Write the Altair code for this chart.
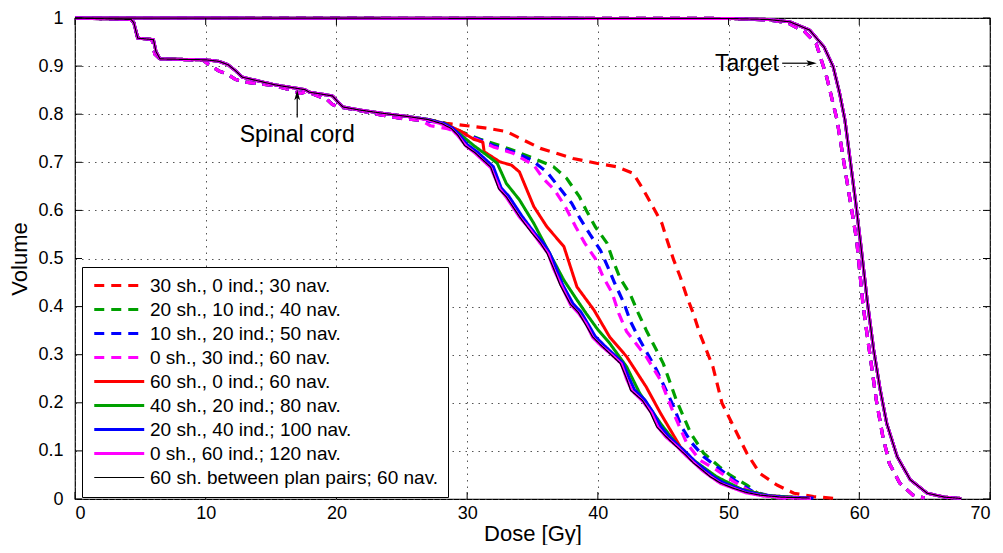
import altair as alt
import pandas as pd

# ---------------- series definitions ----------------
SERIES = [
    "30 sh., 0 ind.; 30 nav.",
    "20 sh., 10 ind.; 40 nav.",
    "10 sh., 20 ind.; 50 nav.",
    "0 sh., 30 ind.; 60 nav.",
    "60 sh., 0 ind.; 60 nav.",
    "40 sh., 20 ind.; 80 nav.",
    "20 sh., 40 ind.; 100 nav.",
    "0 sh., 60 ind.; 120 nav.",
    "60 sh. between plan pairs; 60 nav.",
]
COLORS = ["#ff0000", "#00a000", "#0000ff", "#ff00ff",
          "#ff0000", "#00a000", "#0000ff", "#ff00ff", "#000000"]
DASHES = [[10, 7], [10, 7], [10, 7], [10, 7], [1, 0], [1, 0], [1, 0], [1, 0], [1, 0]]
WIDTHS = [3.2, 3.2, 3.2, 3.2, 3.0, 3.0, 3.0, 3.0, 1.2]

# ---------------- spinal cord DVH: common low-dose part ----------------
CORD_HEAD_D = [0, 4.3, 4.5, 4.8, 6.0, 6.2, 6.5, 10.0, 11.0, 11.7, 12.3, 12.8, 15.3,
               17.6, 17.9, 19.7, 20.1, 20.5, 21.7, 23.5, 25.5]
CORD_HEAD_V = [1.0, 0.997, 0.99, 0.958, 0.955, 0.93, 0.915, 0.913, 0.91, 0.903, 0.89,
               0.877, 0.861, 0.851, 0.846, 0.838, 0.826, 0.815, 0.809, 0.802, 0.795]

CORD_HEAD_DASH_D = [0, 4.3, 4.5, 4.8, 5.9, 6.1, 6.5, 9.8, 10.3, 11.0, 11.6, 12.3, 12.9,
                    15.3, 16.8, 17.2, 17.6, 17.9, 19.3, 19.7, 20.2, 21.7, 23.5, 25.0, 26.5]
CORD_HEAD_DASH_V = [1.0, 0.997, 0.99, 0.958, 0.955, 0.925, 0.915, 0.912, 0.902, 0.89,
                    0.884, 0.872, 0.867, 0.859, 0.848, 0.843, 0.846, 0.845, 0.83, 0.82,
                    0.815, 0.808, 0.798, 0.791, 0.787]

# ---------------- spinal cord DVH: high-dose part per series ----------------
RED_DASH_D = [27.2, 28.4, 30.0, 31.5, 33.0, 35.6, 38.1, 39.9, 41.4, 42.7, 43.5, 44.2,
              44.9, 45.3, 45.8, 46.3, 46.8, 47.3, 47.8, 48.8, 49.5, 50.4, 51.4, 52.4,
              53.7, 55.0, 56.5, 58.0]
RED_DASH_V = [0.788, 0.781, 0.776, 0.771, 0.764, 0.729, 0.708, 0.698, 0.691, 0.677,
              0.642, 0.608, 0.573, 0.538, 0.497, 0.462, 0.421, 0.386, 0.344, 0.275,
              0.199, 0.150, 0.095, 0.053, 0.029, 0.012, 0.005, 0.0015]

GREEN_DASH_D = [28.0, 29.5, 31.0, 32.5, 33.8, 35.1, 36.6, 37.6, 38.6, 39.1, 39.8, 40.7,
                41.2, 41.7, 42.5, 43.1, 43.7, 45.0, 46.0, 47.1, 48.1, 49.3, 50.1, 51.4,
                52.4, 53.5, 55.0]
GREEN_DASH_V = [0.785, 0.764, 0.748, 0.735, 0.722, 0.708, 0.691, 0.667, 0.628, 0.601,
                0.566, 0.532, 0.493, 0.459, 0.424, 0.386, 0.351, 0.282, 0.206, 0.137,
                0.095, 0.067, 0.050, 0.029, 0.008, 0.003, 0.001]

BLUE_DASH_D = [28.0, 29.5, 30.7, 32.0, 33.5, 34.9, 36.1, 37.0, 38.0, 38.6, 39.4, 40.2,
               40.8, 41.3, 42.0, 42.5, 43.2, 44.5, 45.8, 46.4, 47.2, 48.1, 49.1, 50.4,
               51.9, 53.5, 55.0]
BLUE_DASH_V = [0.783, 0.762, 0.750, 0.735, 0.722, 0.705, 0.680, 0.649, 0.615, 0.585,
               0.550, 0.517, 0.480, 0.448, 0.407, 0.369, 0.331, 0.268, 0.192, 0.150,
               0.116, 0.088, 0.067, 0.040, 0.015, 0.004, 0.001]

MAGENTA_DASH_D = [27.2, 28.5, 29.5, 30.7, 32.0, 33.5, 35.1, 35.8, 36.7, 37.5, 38.3, 39.0,
                  39.8, 40.4, 41.1, 41.6, 42.2, 43.7, 44.8, 45.8, 46.8, 47.8, 49.1, 50.4,
                  51.9, 53.5, 55.0]
MAGENTA_DASH_V = [0.776, 0.770, 0.760, 0.748, 0.732, 0.719, 0.694, 0.667, 0.642, 0.608,
                  0.566, 0.532, 0.500, 0.462, 0.428, 0.386, 0.348, 0.296, 0.247, 0.178,
                  0.116, 0.081, 0.060, 0.036, 0.012, 0.003, 0.001]

RED_SOLID_D = [27.0, 28.1, 29.5, 30.5, 31.2, 31.3, 32.5, 33.4, 34.0, 35.1, 36.1, 37.4,
               38.4, 39.7, 40.9, 42.2, 43.7, 44.8, 46.3, 47.8, 49.3, 51.0, 53.0, 56.0]
RED_SOLID_V = [0.789, 0.782, 0.765, 0.748, 0.742, 0.722, 0.701, 0.694, 0.680, 0.608,
               0.566, 0.525, 0.441, 0.393, 0.337, 0.296, 0.233, 0.178, 0.109, 0.067,
               0.040, 0.020, 0.007, 0.002]

GREEN_SOLID_D = [27.0, 28.1, 29.3, 30.5, 31.5, 32.3, 33.0, 34.0, 35.1, 36.3, 37.4, 38.4,
                 39.1, 40.0, 40.9, 42.2, 43.2, 44.8, 46.0, 47.3, 49.1, 51.0, 53.0, 56.0]
GREEN_SOLID_V = [0.789, 0.781, 0.762, 0.735, 0.715, 0.698, 0.656, 0.622, 0.573, 0.511,
                 0.455, 0.414, 0.386, 0.352, 0.324, 0.275, 0.220, 0.157, 0.115, 0.081,
                 0.046, 0.020, 0.007, 0.002]

BLUE_SOLID_D = [27.0, 28.2, 28.9, 29.4, 30.0, 30.8, 31.4, 32.0, 32.6, 33.2, 34.2, 34.8,
                35.2, 35.8, 36.3, 36.8, 37.3, 38.1, 38.7, 39.2, 39.8, 40.5, 41.2, 41.9,
                42.4, 42.8, 43.6, 44.2, 44.8, 45.4, 46.2, 46.9, 47.5, 48.2, 48.8, 49.6,
                50.5, 51.5, 52.6, 54.2, 56.5]
BLUE_SOLID_V = [0.789, 0.781, 0.771, 0.757, 0.737, 0.721, 0.706, 0.691, 0.647, 0.629,
                0.588, 0.566, 0.552, 0.533, 0.512, 0.481, 0.446, 0.406, 0.389, 0.366,
                0.338, 0.319, 0.301, 0.283, 0.251, 0.227, 0.206, 0.181, 0.151, 0.131,
                0.110, 0.093, 0.076, 0.061, 0.047, 0.034, 0.024, 0.015, 0.008, 0.004,
                0.002]

MAGENTA_SOLID_D = [27.0, 28.1, 28.8, 29.3, 29.9, 30.6, 31.2, 31.8, 32.5, 33.0, 34.0,
                   34.7, 35.1, 35.6, 36.2, 36.6, 37.2, 37.9, 38.5, 39.1, 39.6, 40.3,
                   41.1, 41.8, 42.2, 42.6, 43.4, 44.1, 44.6, 45.2, 46.1, 46.7, 47.4,
                   48.0, 48.7, 49.4, 50.4, 51.3, 52.5, 54.0, 56.3]
MAGENTA_SOLID_V = [0.788, 0.779, 0.769, 0.755, 0.734, 0.719, 0.704, 0.689, 0.644, 0.627,
                   0.586, 0.564, 0.550, 0.531, 0.510, 0.479, 0.444, 0.404, 0.387, 0.364,
                   0.336, 0.317, 0.299, 0.281, 0.249, 0.225, 0.204, 0.179, 0.149, 0.129,
                   0.108, 0.091, 0.074, 0.059, 0.045, 0.032, 0.022, 0.013, 0.007, 0.003,
                   0.001]

BLACK_D = [27.0, 28.1, 28.8, 29.3, 29.8, 30.6, 31.2, 31.8, 32.4, 33.0, 34.0, 34.6,
           35.0, 35.6, 36.1, 36.6, 37.1, 37.9, 38.5, 39.0, 39.6, 40.3, 41.0, 41.7,
           42.2, 42.5, 43.4, 44.0, 44.5, 45.2, 46.0, 46.7, 47.3, 48.0, 48.6, 49.4,
           50.3, 51.3, 52.4, 54.0, 56.2]
BLACK_V = [0.789, 0.780, 0.770, 0.756, 0.735, 0.720, 0.705, 0.690, 0.645, 0.628,
           0.587, 0.565, 0.551, 0.532, 0.511, 0.480, 0.445, 0.405, 0.388, 0.365,
           0.337, 0.318, 0.300, 0.282, 0.250, 0.226, 0.205, 0.180, 0.150, 0.130,
           0.109, 0.092, 0.075, 0.060, 0.046, 0.033, 0.023, 0.014, 0.008, 0.004,
           0.002]

# ---------------- target DVH ----------------
TARGET_SOLID_D = [0, 50.0, 53.0, 54.7, 56.2, 57.3, 58.0, 58.5, 58.9, 59.3, 59.7, 60.1,
                  60.6, 61.1, 61.6, 62.1, 62.9, 63.9, 65.2, 66.5, 67.8]
TARGET_SOLID_V = [1.0, 0.999, 0.997, 0.992, 0.975, 0.940, 0.899, 0.843, 0.788, 0.705,
                  0.622, 0.532, 0.414, 0.310, 0.227, 0.157, 0.088, 0.040, 0.012, 0.004,
                  0.001]
TARGET_DASH_D = [0, 50.0, 53.0, 54.5, 55.8, 56.7, 57.5, 58.3, 59.0, 59.8, 60.3, 61.3,
                 61.8, 62.3, 63.1, 64.1, 65.0]
TARGET_DASH_V = [1.0, 0.999, 0.996, 0.990, 0.972, 0.947, 0.878, 0.788, 0.670, 0.538,
                 0.400, 0.206, 0.130, 0.074, 0.033, 0.008, 0.002]

CORD_TAILS = [
    (RED_DASH_D, RED_DASH_V), (GREEN_DASH_D, GREEN_DASH_V),
    (BLUE_DASH_D, BLUE_DASH_V), (MAGENTA_DASH_D, MAGENTA_DASH_V),
    (RED_SOLID_D, RED_SOLID_V), (GREEN_SOLID_D, GREEN_SOLID_V),
    (BLUE_SOLID_D, BLUE_SOLID_V), (MAGENTA_SOLID_D, MAGENTA_SOLID_V),
    (BLACK_D, BLACK_V),
]

# annotations
ANN_TEXT = ["Spinal cord", "Target"]
ANN_X = [17.0, 51.4]
ANN_Y = [0.757, 0.904]
ARROW_X = [17.0, 54.1]
ARROW_X2 = [17.0, 56.5]
ARROW_Y = [0.793, 0.906]
ARROW_Y2 = [0.840, 0.906]
HEAD_X = [17.0, 56.35]
HEAD_Y = [0.840, 0.906]
HEAD_SHAPE = ["M0,-1L-0.55,1L0,0.55L0.55,1Z", "M1,0L-1,-0.55L-0.55,0L-1,0.55Z"]

X_TICKS = [0, 10, 20, 30, 40, 50, 60, 70]
Y_TICKS = [0, 0.1, 0.2, 0.3, 0.4, 0.5, 0.6, 0.7, 0.8, 0.9, 1.0]

# ---------------- build table ----------------
rows = []
for i, name in enumerate(SERIES):
    dashed = i < 4
    hd = CORD_HEAD_DASH_D if dashed else CORD_HEAD_D
    hv = CORD_HEAD_DASH_V if dashed else CORD_HEAD_V
    td, tv = CORD_TAILS[i]
    k = 0
    for d, v in list(zip(hd, hv)) + list(zip(td, tv)):
        rows.append({"series": name, "organ": "cord", "dose": d, "vol": v, "idx": k})
        k += 1
    gd = TARGET_DASH_D if dashed else TARGET_SOLID_D
    gv = TARGET_DASH_V if dashed else TARGET_SOLID_V
    for j, (d, v) in enumerate(zip(gd, gv)):
        rows.append({"series": name, "organ": "target", "dose": d, "vol": v, "idx": j})
df = pd.DataFrame(rows)

W, H = 915, 481
FONT = "Liberation Sans"

xscale = alt.Scale(domain=[0, 70], nice=False, zero=False)
yscale = alt.Scale(domain=[0, 1], nice=False)

lines = alt.Chart(df).mark_line(strokeCap="butt", strokeJoin="round").encode(
    x=alt.X("dose:Q", scale=xscale,
            axis=alt.Axis(title="Dose [Gy]", values=X_TICKS, grid=True, ticks=False,
                          labelPadding=5, titlePadding=1, domain=False)),
    y=alt.Y("vol:Q", scale=yscale,
            axis=alt.Axis(title="Volume", values=Y_TICKS, grid=True, ticks=False,
                          labelPadding=12, titlePadding=6, domain=False,
                          labelExpr="datum.value == 0 ? '0' : datum.value == 1 ? '1' : format(datum.value, '.1f')")),
    color=alt.Color("series:N", scale=alt.Scale(domain=SERIES, range=COLORS), title=None),
    strokeDash=alt.StrokeDash("series:N", scale=alt.Scale(domain=SERIES, range=DASHES), title=None),
    strokeWidth=alt.StrokeWidth("series:N",
                                scale=alt.Scale(type="ordinal", domain=SERIES, range=WIDTHS),
                                title=None),
    detail="organ:N",
    order=alt.Order("idx:Q"),
)

ticks_df = pd.DataFrame({"t": X_TICKS})
yticks_df = pd.DataFrame({"t": Y_TICKS})
tick_style = dict(color="black", strokeWidth=1)
xt_bottom = alt.Chart(ticks_df).mark_rule(**tick_style).encode(
    x=alt.X("t:Q", scale=xscale), y=alt.value(H), y2=alt.value(H - 7))
xt_top = alt.Chart(ticks_df).mark_rule(**tick_style).encode(
    x=alt.X("t:Q", scale=xscale), y=alt.value(0), y2=alt.value(7))
yt_left = alt.Chart(yticks_df).mark_rule(**tick_style).encode(
    y=alt.Y("t:Q", scale=yscale), x=alt.value(0), x2=alt.value(7))
yt_right = alt.Chart(yticks_df).mark_rule(**tick_style).encode(
    y=alt.Y("t:Q", scale=yscale), x=alt.value(W), x2=alt.value(W - 7))

ann_df = pd.DataFrame({"text": ANN_TEXT, "x": ANN_X, "y": ANN_Y})
ann = alt.Chart(ann_df).mark_text(font=FONT, fontSize=23, color="black",
                                  align="center", baseline="middle").encode(
    x=alt.X("x:Q", scale=xscale), y=alt.Y("y:Q", scale=yscale), text="text:N")

arr_df = pd.DataFrame({"x": ARROW_X, "x2": ARROW_X2, "y": ARROW_Y, "y2": ARROW_Y2})
shafts = alt.Chart(arr_df).mark_rule(color="black", strokeWidth=1.2).encode(
    x=alt.X("x:Q", scale=xscale), x2="x2:Q",
    y=alt.Y("y:Q", scale=yscale), y2="y2:Q")

heads = alt.layer(*[
    alt.Chart(pd.DataFrame({"x": [HEAD_X[i]], "y": [HEAD_Y[i]]})).mark_point(
        shape=HEAD_SHAPE[i], filled=True, color="black", size=110, opacity=1).encode(
        x=alt.X("x:Q", scale=xscale), y=alt.Y("y:Q", scale=yscale))
    for i in range(2)
])

chart = alt.layer(lines, xt_bottom, xt_top, yt_left, yt_right, shafts, heads, ann).properties(
    width=W, height=H,
    autosize=alt.AutoSizeParams(type="none"),
    padding={"left": 67, "top": 10, "right": 5, "bottom": 46},
).configure_view(
    stroke="black", strokeWidth=1.2
).configure_axis(
    labelFont=FONT, titleFont=FONT, labelFontSize=18, titleFontSize=22,
    labelColor="black", titleColor="black", titleFontWeight="normal",
    gridColor="#444444", gridDash=[1.5, 5], gridWidth=1, gridOpacity=0.9,
).configure_legend(
    orient="none", legendX=7, legendY=249,
    strokeColor="black", fillColor="white", padding=9,
    labelFont=FONT, labelFontSize=19, labelColor="black", labelLimit=500,
    symbolType="M-1,0H7", symbolSize=156, labelOffset=40,
    rowPadding=4, symbolStrokeColor="black",
)

chart.save("out.html", embed_options={"renderer": "svg", "actions": False})
